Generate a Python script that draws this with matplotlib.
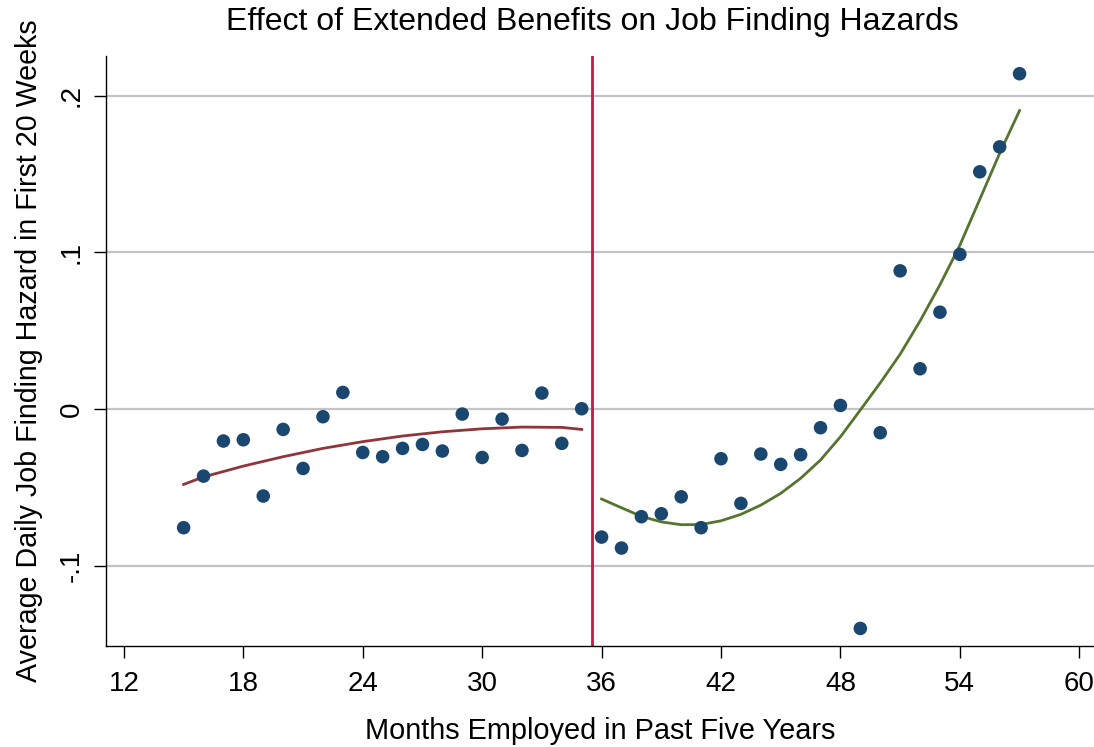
import matplotlib
matplotlib.use("Agg")
import matplotlib.pyplot as plt

plt.rcParams["font.family"] = ["Liberation Sans", "DejaVu Sans"]

# binned means
months = list(range(15, 58))
hazard = [
    -0.0757, -0.0428, -0.0204, -0.0196, -0.0555, -0.0130, -0.0379, -0.0049,
    0.0106, -0.0277, -0.0304, -0.0251, -0.0226, -0.0268, -0.0032, -0.0309,
    -0.0064, -0.0264, 0.0102, -0.0219, 0.0002,
    -0.0817, -0.0887, -0.0687, -0.0668, -0.0560, -0.0757, -0.0317, -0.0602,
    -0.0287, -0.0353, -0.0291, -0.0119, 0.0023, -0.1400, -0.0151, 0.0882,
    0.0257, 0.0618, 0.0987, 0.1514, 0.1673, 0.2140,
]

# fitted curves, left and right of the cutoff
fit_left_x = [15, 16, 18, 20, 22, 24, 26, 28, 30, 32, 34, 35]
fit_left_y = [-0.0481, -0.0433, -0.0364, -0.0304, -0.0251, -0.0208,
              -0.0172, -0.0145, -0.0126, -0.0115, -0.0117, -0.0130]
fit_right_x = list(range(36, 58))
fit_right_y = [-0.0574, -0.0630, -0.0685, -0.0720, -0.0738, -0.0737,
               -0.0713, -0.0672, -0.0613, -0.0538, -0.0442, -0.0325,
               -0.0177, -0.0006, 0.0167, 0.0350, 0.0562, 0.0793,
               0.1045, 0.1338, 0.1632, 0.1905]

cutoff = 35.5
x_ticks = [12, 18, 24, 30, 36, 42, 48, 54, 60]
y_ticks = [-0.1, 0.0, 0.1, 0.2]
y_labels = ["-.1", "0", ".1", ".2"]

fig = plt.figure(figsize=(10.94, 7.47), dpi=100)
ax = fig.add_axes([106 / 1094, 1 - 646.3 / 747, (1094 - 106) / 1094, (646.3 - 55.7) / 747])

ax.set_xlim(11.1, 60.74)
ax.set_ylim(-0.1514, 0.2255)

for yt in y_ticks:
    ax.axhline(yt, color="#c4c4c4", lw=1.6, zorder=0)

ax.scatter(months, hazard, s=95, color="#1a476f", edgecolors="none", zorder=3)
ax.plot(fit_left_x, fit_left_y, color="#90353b", lw=2, zorder=2)
ax.plot(fit_right_x, fit_right_y, color="#55752f", lw=2, zorder=2)
ax.axvline(cutoff, color="#cc1447", lw=2, zorder=2)

ax.set_xticks(x_ticks)
ax.set_yticks(y_ticks)
ax.set_yticklabels(y_labels, rotation=90, va="center")
ax.tick_params(axis="both", direction="out", length=8.5, width=1, labelsize=20, pad=9)
ax.tick_params(axis="y", pad=7)
for side in ("top", "right"):
    ax.spines[side].set_visible(False)
for side in ("left", "bottom"):
    ax.spines[side].set_linewidth(1)

ax.set_xlabel("Months Employed in Past Five Years", fontsize=20.8, labelpad=15)
ax.set_ylabel("Average Daily Job Finding Hazard in First 20 Weeks", fontsize=20.6, labelpad=11)
fig.text(592 / 1094, 1 - 22 / 747, "Effect of Extended Benefits on Job Finding Hazards",
         ha="center", va="center", fontsize=23)

fig.savefig("out.png", dpi=100, facecolor="white")
